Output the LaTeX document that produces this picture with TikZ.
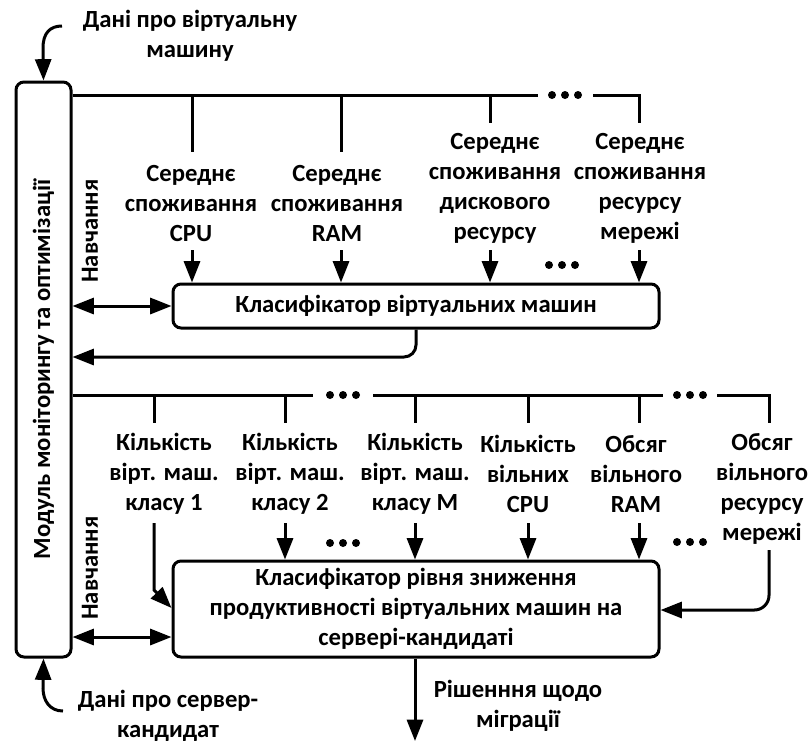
\documentclass[tikz,border=0pt]{standalone}
\usepackage{fontspec}
\setmainfont{Carlito}
\usetikzlibrary{arrows.meta}

\begin{document}
\begin{tikzpicture}[x=0.75pt,y=-0.75pt, line width=2.25pt,
  every node/.style={font=\bfseries\fontsize{18.5}{22.5}\selectfont, inner sep=0pt},
  box/.style={draw, rounded corners=6pt},
  lbl/.style={align=center},
  arr/.style={-{Triangle[length=16pt,width=12pt]}},
  darr/.style={{Triangle[length=16pt,width=12pt]}-{Triangle[length=16pt,width=12pt]}},
  dot/.style={circle, fill, minimum size=6pt, inner sep=0pt}
]
\useasboundingbox (0,0) rectangle (812,742);

% main blocks
\node[box, minimum width=41.25pt, minimum height=431.25pt] (mod) at (43.5,369.5) {};
\node[rotate=90] (modtxt) at (mod.center) {Модуль моніторингу та оптимізації};
\node[box, minimum width=364.5pt, minimum height=33pt] (c1) at (416,306) {Класифікатор віртуальних машин};
\node[box, minimum width=364.5pt, minimum height=72pt, align=center] (c2) at (416,609)
  {Класифікатор рівня зниження\\продуктивності віртуальних машин на\\сервері-кандидаті};

% external inputs / outputs
\node[lbl] (vmdata) at (190,36) {Дані про віртуальну\\машину};
\draw[arr] (62,26) .. controls (50,26) and (43,33) .. (43,48) -- (mod.north);
\node[lbl] (srvdata) at (168,716) {Дані про сервер-\\кандидат};
\draw[arr] (63,711) .. controls (50,711) and (43,701) .. (43,688) -- (mod.south);

% upper bus: VM resource usage
\coordinate (tb) at (0,95);
\coordinate (tbA) at (538,95);
\coordinate (tbB) at (593,95);
\coordinate (d1) at (192,95);
\coordinate (d2) at (341,95);
\coordinate (d3) at (490,95);
\coordinate (d4) at (639,95);
\draw (mod.east |- tb) -- (tbA);
\draw (tbB) -- (d4) -- ++(0,28);
\draw (d1) -- ++(0,57);
\draw (d2) -- ++(0,57);
\draw (d3) -- ++(0,28);
\foreach \x [count=\i] in {552,565,578} \node[dot] (tdot\i) at (\x,95) {};

\node[lbl] (t1) at (191,203) {Середнє\\споживання\\CPU};
\node[lbl] (t2) at (337,203) {Середнє\\споживання\\RAM};
\node[lbl] (t3) at (495,188) {Середнє\\споживання\\дискового\\ресурсу};
\node[lbl] (t4) at (640,188) {Середнє\\споживання\\ресурсу\\мережі};

\coordinate (ta) at (0,250);
\draw[arr] (d1 |- ta) -- (d1 |- c1.north);
\draw[arr] (d2 |- ta) -- (d2 |- c1.north);
\draw[arr] (d3 |- ta) -- (d3 |- c1.north);
\draw[arr] (d4 |- ta) -- (d4 |- c1.north);
\foreach \x [count=\i] in {549,562,575} \node[dot] (udot\i) at (\x,265) {};

% training link and result of VM classifier
\draw[darr] (mod.east |- c1.west) -- (c1.west);
\node[rotate=90] (learn1) at (90,231) {Навчання};
\coordinate (ret) at (0,357);
\draw[arr, rounded corners=9pt] (c1.south) -- (c1.south |- ret) -- (mod.east |- ret);

% lower bus: server candidate state
\coordinate (bb) at (0,395);
\coordinate (bbA) at (313,395);
\coordinate (bbB) at (373,395);
\coordinate (bbC) at (663,395);
\coordinate (bbD) at (717,395);
\coordinate (e1) at (154,395);
\coordinate (e2) at (285,395);
\coordinate (e3) at (415,395);
\coordinate (e4) at (528,395);
\coordinate (e5) at (639,395);
\coordinate (e6) at (769,395);
\draw (mod.east |- bb) -- (bbA);
\draw (bbB) -- (bbC);
\draw (bbD) -- (e6) -- ++(0,28);
\foreach \c in {e1,e2,e3,e4,e5} \draw (\c) -- ++(0,28);
\foreach \x [count=\i] in {330,343,356} \node[dot] (bdot\i) at (\x,395) {};
\foreach \x [count=\i] in {677,690,703} \node[dot] (cdot\i) at (\x,395) {};

\node[lbl] (b1) at (164,474) {Кількість\\вірт. маш.\\класу 1};
\node[lbl] (b2) at (290,474) {Кількість\\вірт. маш.\\класу 2};
\node[lbl] (b3) at (415,474) {Кількість\\вірт. маш.\\класу M};
\node[lbl] (b4) at (528,474) {Кількість\\вільних\\CPU};
\node[lbl] (b5) at (636,474) {Обсяг\\вільного\\RAM};
\node[lbl] (b6) at (762,489) {Обсяг\\вільного\\ресурсу\\мережі};

\coordinate (ba) at (0,523);
\draw[arr] (e1 |- ba) -- (154,590) -- (c2.west |- 0,608);
\draw[arr] (e2 |- ba) -- (e2 |- c2.north);
\draw[arr] (e3 |- ba) -- (e3 |- c2.north);
\draw[arr] (e4 |- ba) -- (e4 |- c2.north);
\draw[arr] (e5 |- ba) -- (e5 |- c2.north);
\coordinate (nb) at (769,550);
\coordinate (nr) at (0,610);
\draw[arr, rounded corners=11pt] (nb) -- (nb |- nr) -- (c2.east |- nr);
\foreach \x [count=\i] in {330,343,356} \node[dot] (edot\i) at (\x,543) {};
\foreach \x [count=\i] in {677,690,703} \node[dot] (fdot\i) at (\x,542) {};

% training link and migration decision
\draw[darr] (mod.east |- 0,637) -- (c2.west |- 0,637);
\node[rotate=90] (learn2) at (90,568) {Навчання};
\coordinate (outp) at (415,741);
\draw[arr] (c2.south -| outp) -- (outp);
\node[lbl] (dec) at (518,706) {Рішенння щодо\\міграції};
\end{tikzpicture}
\end{document}
